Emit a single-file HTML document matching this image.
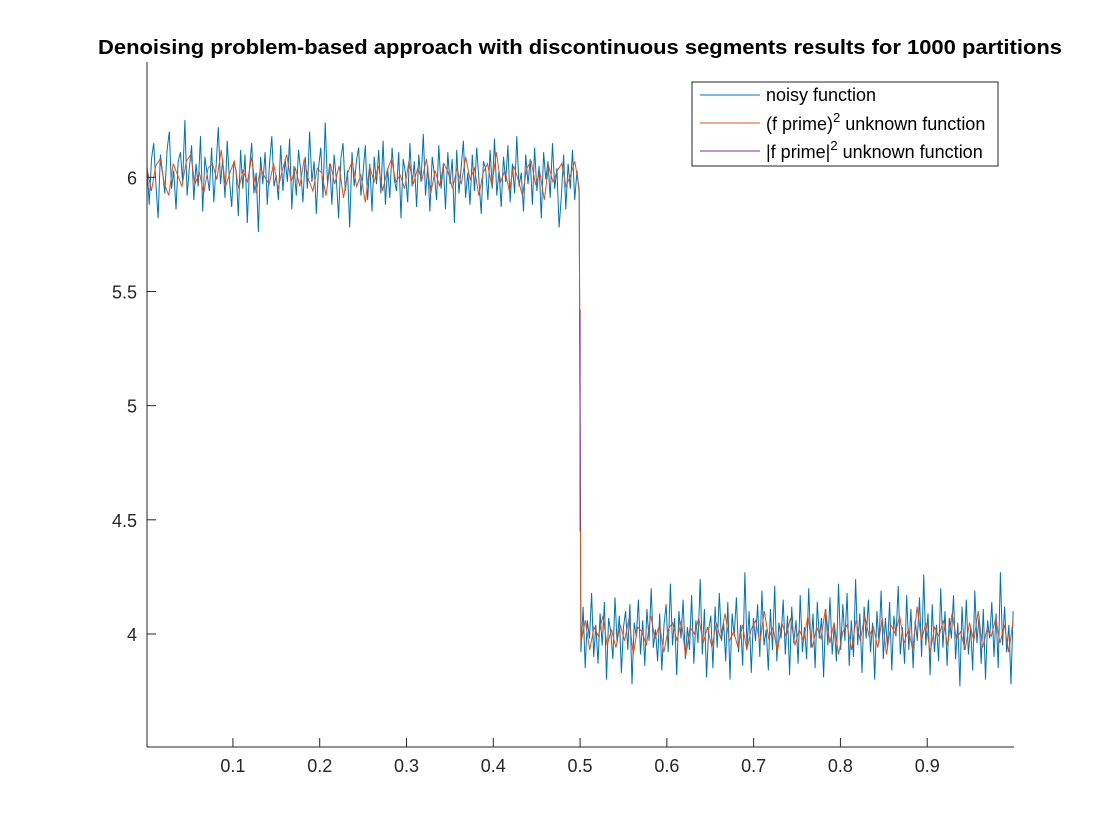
<!DOCTYPE html>
<html><head><meta charset="utf-8"><style>
html,body{margin:0;padding:0;background:#fff;}
svg{display:block;font-family:"Liberation Sans",Arial,sans-serif;}
</style></head><body>
<svg id="chart" width="1120" height="840" viewBox="0 0 1120 840">
<text x="580" y="54" text-anchor="middle" font-size="20" font-weight="bold" fill="#000" textLength="964" lengthAdjust="spacingAndGlyphs">Denoising problem-based approach with discontinuous segments results for 1000 partitions</text>
<g id="plot"></g>
<g id="axes"></g>
<g>
<rect x="692" y="82" width="306" height="84" fill="#fff" stroke="#262626" stroke-width="1"/>
<g><line x1="700" y1="95" x2="760" y2="95" stroke="#0072BD"/><text x="766" y="101" font-size="18" fill="#000">noisy function</text></g>
<g><line x1="700" y1="123" x2="760" y2="123" stroke="#D95319"/><text x="766" y="130" font-size="18" fill="#000">(f prime)<tspan dy="-8" font-size="13">2</tspan><tspan dy="8"> unknown function</tspan></text></g>
<g><line x1="700" y1="151" x2="760" y2="151" stroke="#7E2F8E"/><text x="766" y="158" font-size="18" fill="#000">|f prime|<tspan dy="-8" font-size="13">2</tspan><tspan dy="8"> unknown function</tspan></text></g>
</g>
</svg>
<script>
const xTicks=[0.1,0.2,0.3,0.4,0.5,0.6,0.7,0.8,0.9];
const xTickLabels=["0.1","0.2","0.3","0.4","0.5","0.6","0.7","0.8","0.9"];
const yTicks=[4,4.5,5,5.5,6];
const yTickLabels=["4","4.5","5","5.5","6"];
const noisyLevel1=6.0;
const noisyLevel2=4.0;
const noisyOffsets1=[5,-12,8,15,-3,-18,10,2,-7,12,20,-5,3,-14,7,11,-2,25,-8,4,14,-10,6,-4,18,-15,9,1,-6,13,-11,5,22,-3,8,-9,16,-1,-13,7,3,-17,12,-5,10,-20,4,15,-7,2,-24,9,-3,11,-12,6,18,-4,1,-10,14,-6,8,-2,17,-14,5,-8,12,3,-11,9,-5,20,-2,7,-16,4,13,-9,24,-3,6,-12,10,-1,-18,8,15,-6,3,-22,11,-4,7,13,-8,2,14,-10,6,-15,9,-3,12,-7,16,-12,4,-9,13,-1,-6,11,-18,8,2,-11,15,-4,7,-13,10,-2,19,-8,5,-15,9,1,-10,14,-5,6,-14,11,-3,8,-20,12,-7,4,16,-9,2,-12,10,-6,13,-1,-16,7,4,-10,12,-5,17,-8,3,-13,9,-2,14,-11,6,-7,18,-4,2,-15,10,-3,8,-12,13,-6,5,-18,11,-1,7,-9,15,-5,4,-22,-8,10,-14,6,-5,12,-10,3,-7];
const noisyOffsets2=[-8,12,-15,6,-2,18,-10,4,-13,9,-5,14,-20,7,1,-11,16,-4,8,-17,3,10,-7,13,-22,5,-1,15,-9,6,-14,11,-3,20,-6,2,-12,9,-16,4,13,-8,22,-5,7,-18,10,-2,15,-11,3,-7,17,-13,6,-4,24,-9,11,-19,2,8,-15,12,-6,18,-3,5,-12,14,-20,9,-1,16,-8,4,-14,27,-6,10,-17,7,-3,13,-10,19,-5,2,-16,11,-7,21,-12,5,-2,15,-9,8,-18,12,-4,6,-13,17,-8,3,-11,20,-6,9,-15,14,-2,7,-19,11,-5,16,-9,4,-12,22,-7,13,-3,18,-14,6,-10,24,-5,9,-17,12,-2,15,-8,5,-20,10,-4,19,-11,7,-6,14,-16,8,-1,21,-9,3,-13,17,-7,11,-15,6,-3,16,-10,26,-5,9,-18,13,-8,4,-12,20,-6,10,-14,7,-2,17,-11,5,-23,12,-7,15,-9,3,-16,19,-4,8,-13,11,-20,6,-2,14,-10,9,-15,27,-5,12,-8,4,-22,10];
const smoothOffsets1=[4,-6,5,8,-3,-8,6,1,-4,7,10,-3,2,-7,4,6,-1,12,-4,2,7,-5,3,-2,9,-7,4,0,-3,6,-5,3,10,-2,4,-4,8,-1,-6,4,2,-8,6,-3,5,-9,2,7,-4,1,-11,5,-2,5,-6,3,8,-2,1,-5,7,-3,4,-1,8,-7,3,-4,6,2,-5,4,-3,9,-1,4,-8,2,6,-4,11,-2,3,-6,5,-1,-8,4,7,-3,2,-10,5,-2,3,6,-4,1,7,-5];
const smoothOffsets2=[-4,6,-7,3,-1,8,-5,2,-6,4,-3,7,-9,3,1,-5,8,-2,4,-8,2,5,-3,6,-10,3,0,7,-4,3,-6,5,-2,9,-3,1,-6,4,-7,2,6,-4,10,-2,3,-8,5,-1,7,-5,2,-3,8,-6,3,-2,11,-4,5,-9,1,4,-7,6,-3,8,-1,3,-6,7,-9,4,0,8,-4,2,-7,12,-3,5,-8,3,-1,6,-5,9,-2,1,-7,5,-3,10,-6,2,-1,7,-4,4,-8,6];
const jumpX=[0.5,0.5];
const jumpY=[5.42,4.45];

const ns="http://www.w3.org/2000/svg";
const L=147,R=1014,T=62,B=747;
const xMin=0.001,xMax=1.0,yMin=3.505,yMax=6.505;
function xs(v){return L+(v-xMin)/(xMax-xMin)*(R-L);}
function ys(v){return B-(v-yMin)/(yMax-yMin)*(B-T);}
const plot=document.getElementById('plot');
const axes=document.getElementById('axes');

function seriesPoints(off1,lev1,off2,lev2){
  const pts=[];
  const n1=off1.length,n2=off2.length;
  for(let i=0;i<n1;i++){pts.push([xMin+(0.499-xMin)*i/(n1-1),lev1+off1[i]/100]);}
  for(let i=0;i<n2;i++){pts.push([0.501+(0.999-0.501)*i/(n2-1),lev2+off2[i]/100]);}
  return pts;
}
function drawLine(pts,color,name,w){
  const p=document.createElementNS(ns,'polyline');
  p.setAttribute('points',pts.map(q=>xs(q[0]).toFixed(1)+','+ys(q[1]).toFixed(1)).join(' '));
  p.setAttribute('fill','none');p.setAttribute('stroke',color);p.setAttribute('stroke-width',w);
  
  
  plot.appendChild(p);
}
drawLine(seriesPoints(noisyOffsets1,noisyLevel1,noisyOffsets2,noisyLevel2),'#0072BD','noisy-function-line',1);
drawLine(seriesPoints(smoothOffsets1,noisyLevel1,smoothOffsets2,noisyLevel2),'#D95319','f-prime-squared-line',1);
drawLine(jumpX.map((x,i)=>[x,jumpY[i]]),'#7E2F8E','abs-f-prime-squared-line',1);

function mk(tag,attrs,parent){const e=document.createElementNS(ns,tag);for(const k in attrs)e.setAttribute(k,attrs[k]);parent.appendChild(e);return e;}
const xa=mk('line',{x1:L,y1:B,x2:R,y2:B,stroke:'#262626','stroke-width':1},axes);


const ya=mk('line',{x1:L,y1:T,x2:L,y2:B,stroke:'#262626','stroke-width':1},axes);


xTicks.forEach((v,i)=>{
  const x=xs(v);
  mk('line',{x1:x,y1:B,x2:x,y2:B-9,stroke:'#262626'},axes);
  const t=mk('text',{x:x,y:B+25,'text-anchor':'middle','font-size':'18',fill:'#262626'},axes);
  t.textContent=xTickLabels[i];
  
  
});
yTicks.forEach((v,i)=>{
  const y=ys(v);
  mk('line',{x1:L,y1:y,x2:L+9,y2:y,stroke:'#262626'},axes);
  const t=mk('text',{x:L-10,y:y+7,'text-anchor':'end','font-size':'18',fill:'#262626'},axes);
  t.textContent=yTickLabels[i];
  
  
});
</script>
</body></html>
